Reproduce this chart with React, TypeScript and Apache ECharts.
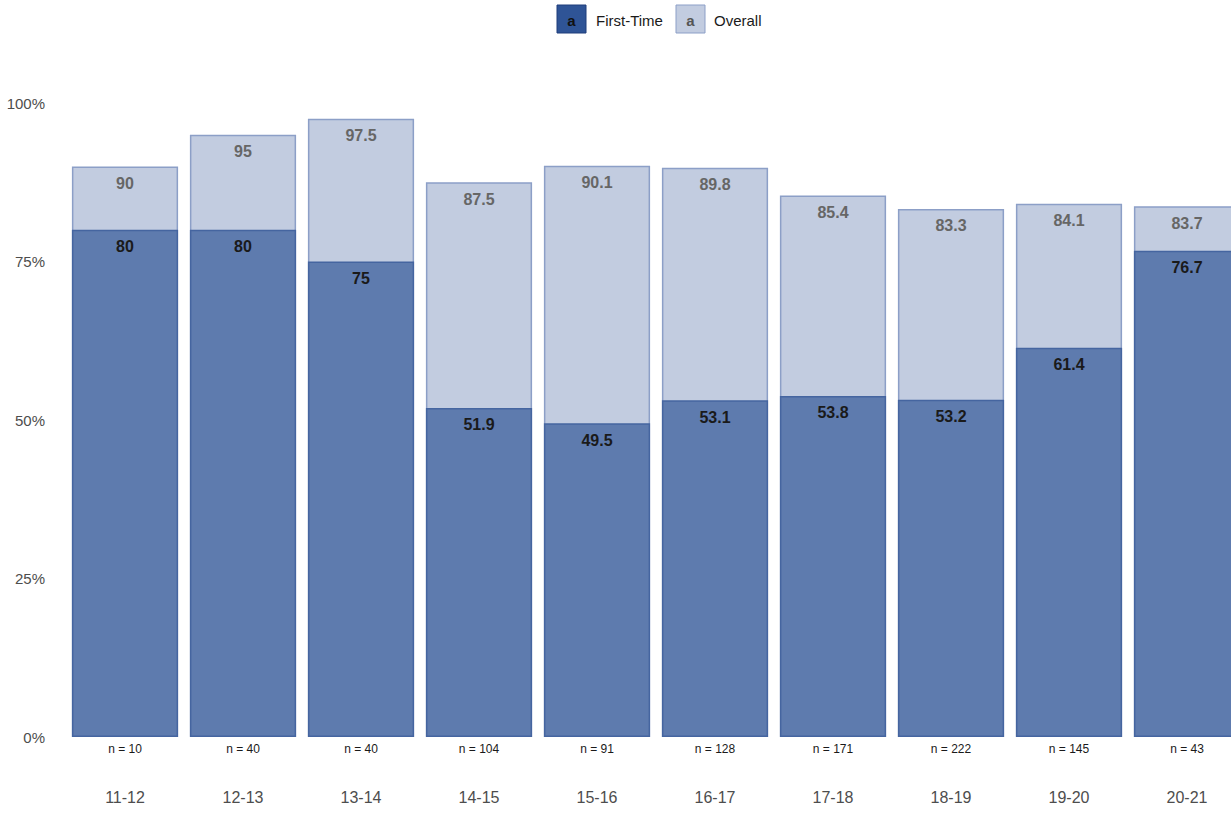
import React, { useEffect, useRef } from "react";
import * as echarts from "echarts";

const categories = ["11-12", "12-13", "13-14", "14-15", "15-16", "16-17", "17-18", "18-19", "19-20", "20-21"];
const firstTime = [80, 80, 75, 51.9, 49.5, 53.1, 53.8, 53.2, 61.4, 76.7];
const overall = [90, 95, 97.5, 87.5, 90.1, 89.8, 85.4, 83.3, 84.1, 83.7];
const counts = [10, 40, 40, 104, 91, 128, 171, 222, 145, 43];
const yTicks = [0, 25, 50, 75, 100];

const FONT = "'Liberation Sans', Arial, sans-serif";
const FT_FILL = "#5E7BAE";
const FT_BORDER = "#4565A0";
const OV_FILL = "#C2CCE0";
const OV_BORDER = "#8C9FC7";

export default function App() {
  const ref = useRef<HTMLDivElement>(null);
  useEffect(() => {
    if (!ref.current) return;
    const chart = echarts.init(ref.current, null, { renderer: "svg" });
    chart.setOption({
      animation: false,
      backgroundColor: "#ffffff",
      textStyle: { fontFamily: FONT },
      grid: { left: 66, width: 1180, top: 103, bottom: 76, containLabel: false },
      xAxis: [
        {
          type: "category",
          data: categories,
          axisLine: { show: false },
          axisTick: { show: false },
          axisLabel: {
            formatter: (_v: string, i: number) => `n = ${counts[i]}`,
            fontSize: 12,
            color: "#1a1a1a",
            margin: 6,
            fontFamily: FONT,
          },
        },
        {
          type: "category",
          position: "bottom",
          data: categories,
          axisLine: { show: false },
          axisTick: { show: false },
          axisLabel: { fontSize: 16, color: "#4d4d4d", margin: 52, fontFamily: FONT },
        },
      ],
      yAxis: {
        type: "value",
        min: yTicks[0],
        max: yTicks[yTicks.length - 1],
        interval: 25,
        splitLine: { show: false },
        axisLine: { show: false },
        axisTick: { show: false },
        axisLabel: { formatter: "{value}%", fontSize: 15, color: "#4d4d4d", margin: 21, fontFamily: FONT },
      },
      series: [
        {
          name: "Overall",
          type: "bar",
          xAxisIndex: 0,
          data: overall,
          barCategoryGap: "10%",
          itemStyle: { color: OV_FILL, borderColor: OV_BORDER, borderWidth: 1.5 },
          label: {
            show: true,
            position: "insideTop",
            distance: 9,
            color: "#666666",
            fontWeight: "bold",
            fontSize: 16,
            fontFamily: FONT,
          },
          z: 1,
        },
        {
          name: "First-Time",
          type: "bar",
          xAxisIndex: 0,
          data: firstTime,
          barGap: "-100%",
          barCategoryGap: "10%",
          itemStyle: { color: FT_FILL, borderColor: FT_BORDER, borderWidth: 1.5 },
          label: {
            show: true,
            position: "insideTop",
            distance: 9,
            color: "#1a1a1a",
            fontWeight: "bold",
            fontSize: 16,
            fontFamily: FONT,
          },
          z: 2,
        },
      ],
      graphic: [
        { type: "rect", shape: { x: 557, y: 5, width: 29, height: 28 }, style: { fill: "#2F5496", stroke: "#1F3C7A", lineWidth: 1 } },
        { type: "text", x: 571.5, y: 20, style: { text: "a", fill: "#111", font: `bold 15px ${FONT}`, align: "center", verticalAlign: "middle" } },
        { type: "text", x: 596, y: 20, style: { text: "First-Time", fill: "#1a1a1a", font: `15px ${FONT}`, verticalAlign: "middle" } },
        { type: "rect", shape: { x: 676, y: 5, width: 29, height: 28 }, style: { fill: OV_FILL, stroke: OV_BORDER, lineWidth: 1 } },
        { type: "text", x: 690.5, y: 20, style: { text: "a", fill: "#555", font: `bold 15px ${FONT}`, align: "center", verticalAlign: "middle" } },
        { type: "text", x: 714, y: 20, style: { text: "Overall", fill: "#1a1a1a", font: `15px ${FONT}`, verticalAlign: "middle" } },
      ],
    });
    return () => chart.dispose();
  }, []);
  return (
    <div style={{ position: "fixed", left: 0, top: 0, width: 1231, height: 813, overflow: "hidden", background: "#fff" }}>
      <div ref={ref} style={{ width: 1260, height: 813 }} />
    </div>
  );
}
